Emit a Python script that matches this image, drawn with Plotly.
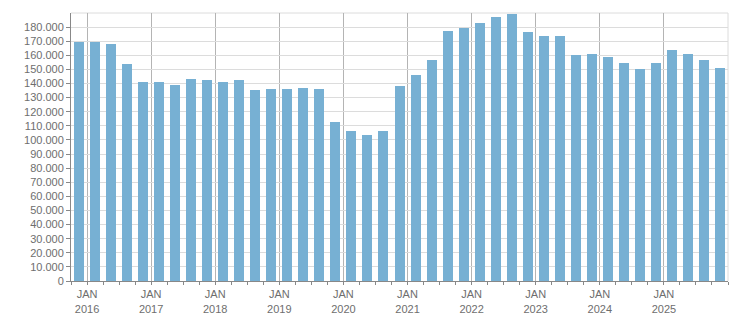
import plotly.graph_objects as go

quarters = ["2015-Q4",
            "2016-Q1", "2016-Q2", "2016-Q3", "2016-Q4",
            "2017-Q1", "2017-Q2", "2017-Q3", "2017-Q4",
            "2018-Q1", "2018-Q2", "2018-Q3", "2018-Q4",
            "2019-Q1", "2019-Q2", "2019-Q3", "2019-Q4",
            "2020-Q1", "2020-Q2", "2020-Q3", "2020-Q4",
            "2021-Q1", "2021-Q2", "2021-Q3", "2021-Q4",
            "2022-Q1", "2022-Q2", "2022-Q3", "2022-Q4",
            "2023-Q1", "2023-Q2", "2023-Q3", "2023-Q4",
            "2024-Q1", "2024-Q2", "2024-Q3", "2024-Q4",
            "2025-Q1", "2025-Q2", "2025-Q3", "2025-Q4"]

values = [169500,
          169500, 168300, 153900, 141400,
          141400, 139300, 143300, 142600,
          141400, 142600, 135100, 135800,
          135800, 136500, 135800, 112400,
          106700, 103800, 106000, 138600,
          146100, 156700, 177400, 179500,
          182600, 187000, 189500, 176700,
          173800, 173800, 160200, 160900,
          158800, 154500, 150200, 154500,
          163800, 160900, 156700, 151000]

years = list(range(2016, 2026))
year_labels = ["JAN<br>%d" % y for y in years]
y_ticks = list(range(0, 190000, 10000))

x_pos = [int(q[:4]) + (int(q[-1]) - 1) / 4 + 0.125 for q in quarters]

font = dict(family="Liberation Sans, Arial, sans-serif", size=11, color="#6e6e6e")

fig = go.Figure(go.Bar(x=x_pos, y=values, width=0.156,
                       marker=dict(color="#77b0d3", line=dict(width=0)),
                       hoverinfo="y"))

fig.update_layout(
    width=751, height=313,
    margin=dict(l=71, r=23, t=13, b=32),
    paper_bgcolor="white", plot_bgcolor="white",
    separators=",.",
    showlegend=False,
    font=font,
    bargap=0,
    shapes=[
        dict(type="line", xref="paper", yref="paper", x0=0, x1=1, y0=1, y1=1,
             line=dict(color="#dcdcdc", width=1), layer="below"),
        dict(type="line", xref="paper", yref="paper", x0=1, x1=1, y0=0, y1=1,
             line=dict(color="#dcdcdc", width=1), layer="below"),
    ],
)

fig.update_xaxes(
    range=[2015.75, 2026.0],
    automargin=False,
    tickmode="array", tickvals=years, ticktext=year_labels,
    ticks="outside", ticklen=3, tickcolor="#888888",
    showgrid=True, gridcolor="#b4b4b4", gridwidth=1,
    showline=True, linecolor="#888888", linewidth=1,
    zeroline=False, tickfont=font,
    minor=dict(tickmode="linear", tick0=2015.75, dtick=0.25, ticks="outside",
               ticklen=3, tickcolor="#888888", showgrid=False),
)

fig.update_yaxes(
    range=[0, 190000],
    automargin=False,
    tickmode="array", tickvals=y_ticks, tickformat=",d",
    ticks="outside", ticklen=4, tickcolor="#888888",
    showgrid=True, gridcolor="#dcdcdc", gridwidth=1,
    showline=True, linecolor="#888888", linewidth=1,
    zeroline=False, tickfont=font,
)

fig.write_html("out.html")
